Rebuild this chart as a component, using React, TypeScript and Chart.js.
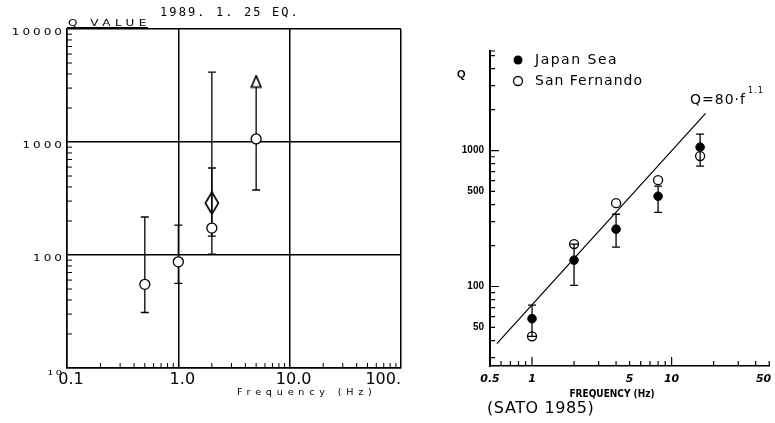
import React, { useEffect, useRef } from 'react';
import { Chart, registerables } from 'chart.js';

Chart.register(...registerables);

// ---------------- Left panel (1989. 1. 25 EQ.) ----------------
const leftFreq = [0.5, 1, 2, 5];
const leftQ = [55, 87, 173, 1064];
const leftQLow = [31, 56, 147, 376];
const leftQHigh: (number | null)[] = [217, 184, 589, null];

const diamondFreq = [2];
const diamondQ = [288];
const diamondLow = [102];
const diamondHigh = [4160];

const arrowFreq = [5];
const arrowFromQ = [1064];
const arrowBaseQ = [3070];
const arrowHeadQ = [3430];

const leftXRange = [0.1, 100];
const leftYRange = [10, 10000];
const leftXTicks = [0.1, 1, 10, 100];
const leftXLabels = ['0.1', '1.0', '10.0', '100.'];
const leftYTicks = [10, 100, 1000, 10000];
const leftYLabels = ['10', '100', '1000', '10000'];
const leftXMinor = [0.2, 0.3, 0.4, 0.5, 0.6, 0.7, 0.8, 0.9, 2, 3, 4, 5, 6, 7, 8, 9, 20, 30, 40, 50, 60, 70, 80, 90];
const leftYMinor = [20, 30, 40, 50, 60, 70, 80, 90, 200, 300, 400, 500, 600, 700, 800, 900, 2000, 3000, 4000, 5000, 6000, 7000, 8000, 9000];

// ---------------- Right panel (SATO 1985) ----------------
const satoFreq = [1, 2, 4, 8, 16];
const japanSeaQ = [58, 156, 264, 461, 1059];
const japanSeaLow = [43, 102, 195, 351, 768];
const japanSeaHigh = [73, 205, 340, 547, 1321];
const sanFernandoQ = [43, 205, 410, 605, 910];
const fitFreq = [0.56, 17.5];
const fitQ = [38, 1880];

const rightXRange = [0.5, 50];
const rightYRange = [26, 5400];
const rightXTicks = [0.5, 1, 5, 10, 50];
const rightXLabels = ['0.5', '1', '5', '10', '50'];
const rightYTicks = [50, 100, 500, 1000];
const rightYLabels = ['50', '100', '500', '1000'];
const rightXMinor = [0.6, 0.7, 0.8, 0.9, 2, 3, 4, 5, 6, 7, 8, 9, 20, 30, 40, 50];
const rightXLong = [1, 10];
const rightYMinor = [30, 40, 50, 60, 70, 80, 90, 200, 300, 400, 500, 600, 700, 800, 900, 2000, 3000, 4000, 5000];
const rightYLong = [100, 1000];

function makeDiamond() {
  const c = document.createElement('canvas');
  c.width = 16; c.height = 24;
  const g = c.getContext('2d')!;
  g.beginPath();
  g.moveTo(8, 1); g.lineTo(14.5, 12); g.lineTo(8, 23); g.lineTo(1.5, 12); g.closePath();
  g.lineWidth = 1.7; g.strokeStyle = '#000'; g.stroke();
  return c;
}
function makeTriangle() {
  const c = document.createElement('canvas');
  c.width = 12; c.height = 14;
  const g = c.getContext('2d')!;
  g.beginPath();
  g.moveTo(6, 1.2); g.lineTo(10.8, 12.5); g.lineTo(1.2, 12.5); g.closePath();
  g.fillStyle = '#fff'; g.fill();
  g.lineWidth = 1.7; g.strokeStyle = '#000'; g.stroke();
  return c;
}

function text(ctx: any, s: string, x: number, y: number, font: string, align = 'left', spacing = '0px', sx = 1) {
  ctx.save();
  ctx.translate(x, y);
  ctx.scale(sx, 1);
  ctx.font = font;
  ctx.textAlign = align;
  ctx.textBaseline = 'middle';
  ctx.letterSpacing = spacing;
  ctx.fillStyle = '#000';
  ctx.fillText(s, 0, 0);
  ctx.restore();
}

function errBar(ctx: any, x: any, y: any, f: number, lo: number, hi: number, capLo: boolean, capHi: boolean, cap: number) {
  const px = x.getPixelForValue(f);
  const y1 = y.getPixelForValue(lo);
  const y2 = y.getPixelForValue(hi);
  ctx.beginPath();
  ctx.moveTo(px, y1); ctx.lineTo(px, y2);
  if (capLo) { ctx.moveTo(px - cap, y1); ctx.lineTo(px + cap, y1); }
  if (capHi) { ctx.moveTo(px - cap, y2); ctx.lineTo(px + cap, y2); }
  ctx.stroke();
}

const leftPlugin = {
  id: 'leftDecor',
  beforeDatasetsDraw(chart: any) {
    const { ctx, chartArea: a } = chart;
    const x = chart.scales.x, y = chart.scales.y;
    ctx.save();
    ctx.strokeStyle = '#000';
    ctx.lineWidth = 1;
    ctx.beginPath();
    for (const v of leftXMinor) { const px = x.getPixelForValue(v); ctx.moveTo(px, a.bottom); ctx.lineTo(px, a.bottom - 5); }
    for (const v of leftYMinor) { const py = y.getPixelForValue(v); ctx.moveTo(a.left, py); ctx.lineTo(a.left + 5, py); }
    ctx.stroke();
    ctx.lineWidth = 1.3;
    leftFreq.forEach((f, i) => {
      const hi = leftQHigh[i];
      errBar(ctx, x, y, f, leftQLow[i], hi === null ? leftQ[i] : hi, true, hi !== null, 4);
    });
    diamondFreq.forEach((f, i) => errBar(ctx, x, y, f, diamondLow[i], diamondHigh[i], true, true, 4));
    arrowFreq.forEach((f, i) => errBar(ctx, x, y, f, arrowFromQ[i], arrowBaseQ[i], false, false, 0));
    ctx.restore();
  },
  afterDraw(chart: any) {
    const { ctx, chartArea: a } = chart;
    const x = chart.scales.x, y = chart.scales.y;
    ctx.save();
    leftYTicks.forEach((v, i) => {
      const py = y.getPixelForValue(v);
      if (v === leftYRange[0]) {
        text(ctx, leftYLabels[i], a.left - 3, py + 5, '7px "DejaVu Sans"', 'right', '1.5px', 1.4);
      } else {
        text(ctx, leftYLabels[i], a.left - 2, py + 3.5, '8px "DejaVu Sans"', 'right', '2px', 1.5);
      }
    });
    leftXTicks.forEach((v, i) => {
      const px = x.getPixelForValue(v);
      const last = i === leftXTicks.length - 1;
      text(ctx, leftXLabels[i], last ? px : px + 4, a.bottom + 12, '16px "DejaVu Sans"', last ? 'right' : 'center');
    });
    text(ctx, '1989. 1. 25 EQ.', 160, 13, '12px "DejaVu Sans Mono"', 'left', '2.1px');
    text(ctx, 'Q VALUE', 68, 23.5, '8px "DejaVu Sans"', 'left', '3px', 1.5);
    ctx.strokeStyle = '#000';
    ctx.lineWidth = 1.2;
    ctx.beginPath(); ctx.moveTo(a.left, 27.5); ctx.lineTo(148, 27.5); ctx.stroke();
    text(ctx, 'Frequency (Hz)', 237, 393, '8px "DejaVu Sans"', 'left', '4px', 1.2);
    ctx.restore();
  },
};

const rightPlugin = {
  id: 'rightDecor',
  afterDatasetsDraw(chart: any) {
    const { ctx } = chart;
    const x = chart.scales.x, y = chart.scales.y;
    ctx.save();
    ctx.strokeStyle = '#000';
    ctx.lineWidth = 1.3;
    satoFreq.forEach((f, i) => errBar(ctx, x, y, f, japanSeaLow[i], japanSeaHigh[i], true, true, 4));
    ctx.restore();
  },
  afterDraw(chart: any) {
    const { ctx, chartArea: a } = chart;
    const x = chart.scales.x, y = chart.scales.y;
    ctx.save();
    ctx.strokeStyle = '#000';
    ctx.lineWidth = 1.2;
    ctx.beginPath();
    for (const v of rightXMinor) { const px = x.getPixelForValue(v); ctx.moveTo(px, a.bottom); ctx.lineTo(px, a.bottom - 5); }
    for (const v of rightXLong) { const px = x.getPixelForValue(v); ctx.moveTo(px, a.bottom); ctx.lineTo(px, a.bottom - 9); }
    for (const v of rightYMinor) { const py = y.getPixelForValue(v); ctx.moveTo(a.left, py); ctx.lineTo(a.left + 5, py); }
    for (const v of rightYLong) { const py = y.getPixelForValue(v); ctx.moveTo(a.left, py); ctx.lineTo(a.left + 9, py); }
    ctx.moveTo(a.left, a.top); ctx.lineTo(a.left + 5, a.top);
    ctx.stroke();

    rightYTicks.forEach((v, i) => {
      text(ctx, rightYLabels[i], a.left - 6, y.getPixelForValue(v), 'bold 10px "Liberation Sans"', 'right');
    });
    rightXTicks.forEach((v, i) => {
      const px = x.getPixelForValue(v);
      const last = i === rightXTicks.length - 1;
      text(ctx, rightXLabels[i], last ? px + 2 : px, a.bottom + 13, 'italic bold 11px "DejaVu Sans"', last ? 'right' : 'center');
    });
    text(ctx, 'Q', 47, 75, 'bold 11px "Liberation Sans"');
    text(ctx, 'FREQUENCY (Hz)', 202, 394, 'bold 10px "DejaVu Sans Condensed", "Liberation Sans Narrow", sans-serif', 'center');
    text(ctx, '(SATO 1985)', 77, 409, '16px "DejaVu Sans"', 'left', '0.6px');

    // legend
    ctx.fillStyle = '#000';
    ctx.beginPath(); ctx.arc(108, 60, 4.5, 0, Math.PI * 2); ctx.fill();
    ctx.lineWidth = 1.3;
    ctx.beginPath(); ctx.arc(108, 81, 4.5, 0, Math.PI * 2); ctx.stroke();
    text(ctx, 'Japan Sea', 125, 60, '14px "DejaVu Sans"', 'left', '1.5px');
    text(ctx, 'San Fernando', 125, 81, '14px "DejaVu Sans"', 'left', '1px');

    // fit annotation
    text(ctx, 'Q=80\u00B7f', 280, 100, '14px "DejaVu Sans"', 'left', '1px');
    text(ctx, '1.1', 338, 91, '8px "DejaVu Sans"', 'left', '1px');
    ctx.restore();
  },
};

function leftConfig(): any {
  const diamond = makeDiamond();
  const triangle = makeTriangle();
  return {
    type: 'scatter',
    data: {
      datasets: [
        {
          label: 'Q', data: leftFreq.map((f, i) => ({ x: f, y: leftQ[i] })),
          pointStyle: 'circle', pointRadius: 5, borderColor: '#000', backgroundColor: '#fff', borderWidth: 1.3,
        },
        {
          label: 'Q (diamond)', data: diamondFreq.map((f, i) => ({ x: f, y: diamondQ[i] })),
          pointStyle: diamond, pointRadius: 8,
        },
        {
          label: 'lower bound', data: arrowFreq.map((f, i) => ({ x: f, y: arrowHeadQ[i] })),
          pointStyle: triangle, pointRadius: 7,
        },
      ],
    },
    options: {
      animation: false, responsive: false, devicePixelRatio: 1, events: [],
      layout: { padding: { left: 0, top: 29, right: 29, bottom: 25 } },
      plugins: { legend: { display: false }, tooltip: { enabled: false }, title: { display: false } },
      scales: {
        x: {
          type: 'logarithmic', min: leftXRange[0], max: leftXRange[1], position: 'bottom',
          afterBuildTicks: (s: any) => { s.ticks = leftXTicks.map((v) => ({ value: v })); },
          afterFit: (s: any) => { s.height = 30; },
          ticks: { display: false },
          grid: { color: '#000', lineWidth: 1.5, drawTicks: false },
          border: { display: true, color: '#000', width: 1.5 },
        },
        y: {
          type: 'logarithmic', min: leftYRange[0], max: leftYRange[1], position: 'left',
          afterBuildTicks: (s: any) => { s.ticks = leftYTicks.map((v) => ({ value: v })); },
          afterFit: (s: any) => { s.width = 67; },
          ticks: { display: false },
          grid: { color: '#000', lineWidth: 1.5, drawTicks: false },
          border: { display: true, color: '#000', width: 1.5 },
        },
      },
    },
    plugins: [leftPlugin],
  };
}

function rightConfig(): any {
  return {
    type: 'scatter',
    data: {
      datasets: [
        {
          label: 'Japan Sea', data: satoFreq.map((f, i) => ({ x: f, y: japanSeaQ[i] })),
          pointStyle: 'circle', pointRadius: 4.3, borderColor: '#000', backgroundColor: '#000', borderWidth: 1,
        },
        {
          label: 'San Fernando', data: satoFreq.map((f, i) => ({ x: f, y: sanFernandoQ[i] })),
          pointStyle: 'circle', pointRadius: 4.5, borderColor: '#000', backgroundColor: '#fff', borderWidth: 1.3,
        },
        {
          label: 'Q=80·f^1.1', data: fitFreq.map((f, i) => ({ x: f, y: fitQ[i] })),
          showLine: true, pointRadius: 0, borderColor: '#000', borderWidth: 1.2,
        },
      ],
    },
    options: {
      animation: false, responsive: false, devicePixelRatio: 1, events: [],
      layout: { padding: { left: 0, top: 51, right: 5, bottom: 37 } },
      plugins: { legend: { display: false }, tooltip: { enabled: false } },
      scales: {
        x: {
          type: 'logarithmic', min: rightXRange[0], max: rightXRange[1], position: 'bottom',
          afterBuildTicks: (s: any) => { s.ticks = rightXTicks.map((v) => ({ value: v })); },
          afterFit: (s: any) => { s.height = 20; },
          ticks: { display: false },
          grid: { display: false },
          border: { display: true, color: '#000', width: 1.5 },
        },
        y: {
          type: 'logarithmic', min: rightYRange[0], max: rightYRange[1], position: 'left',
          afterBuildTicks: (s: any) => { s.ticks = rightYTicks.map((v) => ({ value: v })); },
          afterFit: (s: any) => { s.width = 80; },
          ticks: { display: false },
          grid: { display: false },
          border: { display: true, color: '#000', width: 2 },
        },
      },
    },
    plugins: [rightPlugin],
  };
}

export default function App() {
  const leftRef = useRef<HTMLCanvasElement>(null);
  const rightRef = useRef<HTMLCanvasElement>(null);
  useEffect(() => {
    const l = new Chart(leftRef.current!, leftConfig());
    const r = new Chart(rightRef.current!, rightConfig());
    return () => { l.destroy(); r.destroy(); };
  }, []);
  return (
    <div style={{ position: 'absolute', left: 0, top: 0, width: 775, height: 423, background: '#fff', overflow: 'hidden' }}>
      <canvas ref={leftRef} width={430} height={423} style={{ position: 'absolute', left: 0, top: 0, width: 430, height: 423 }} />
      <canvas ref={rightRef} width={365} height={423} style={{ position: 'absolute', left: 410, top: 0, width: 365, height: 423 }} />
    </div>
  );
}
